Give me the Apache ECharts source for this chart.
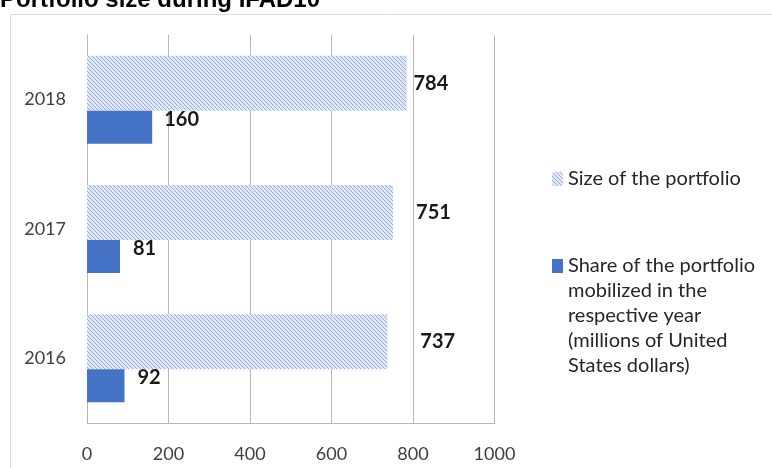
<!DOCTYPE html>
<html>
<head>
<meta charset="utf-8">
<script src="https://cdn.jsdelivr.net/npm/echarts@6/dist/echarts.min.js"></script>
<style>
  html, body { margin: 0; padding: 0; background: #fff; }
  #chart { width: 772px; height: 468px; }
</style>
</head>
<body>
<div id="chart"></div>
<script>
// Portfolio size during IFAD10 (millions of USD)
const years = ['2016', '2017', '2018'];
const portfolioSize = [737, 751, 784];
const mobilizedShare = [92, 81, 160];
const valueTicks = [0, 200, 400, 600, 800, 1000];

const sizeName = 'Size of the portfolio';
const shareName = 'Share of the portfolio\nmobilized in the\nrespective year\n(millions of United\nStates dollars)';

// label nudges [dx, dy] per year
const sizeLabelNudge = [[28, 0], [18, 0], [2, 0]];
const shareLabelNudge = [[8, -8], [8, -8], [7, -8]];

// legend text metrics; the multi-line entry keeps its swatch beside the first line
const legendLine = 25;
const shareLines = shareName.split('\n').length;
const shareBlock = legendLine * shareLines;
const swatchTop = legendLine / 2 - 7;
const shareIcon = 'path://M0,0L0.01,0M0,' + swatchTop + 'H11V' + (swatchTop + 14) + 'H0Z' +
  'M0,' + shareBlock + 'L0.01,' + shareBlock;

// light blue diagonal hatch tile
function hatchTile() {
  const c = document.createElement('canvas');
  c.width = 4; c.height = 4;
  const g = c.getContext('2d');
  g.fillStyle = '#dfe7f6';
  g.fillRect(0, 0, 4, 4);
  g.fillStyle = '#97b0e0';
  for (let i = 0; i < 4; i++) g.fillRect(i, i, 1, 1);
  return c;
}
const hatch = { image: hatchTile(), repeat: 'repeat' };

const labelFont = { fontFamily: 'Lato', fontWeight: 'bold', fontSize: 20, color: '#1a1a1a' };
const tickFont = { fontFamily: 'Lato', fontSize: 18, color: '#404040' };
const legendFont = { fontFamily: 'Lato', fontSize: 20, color: '#262626', lineHeight: legendLine };

function withLabels(values, nudges) {
  return values.map((v, i) => ({ value: v, label: { offset: nudges[i] } }));
}

const chart = echarts.init(document.getElementById('chart'), null, { renderer: 'canvas' });
chart.setOption({
  animation: false,
  backgroundColor: '#ffffff',
  graphic: [
    {
      type: 'rect', silent: true, z: -1,
      shape: { x: 10.5, y: 14.5, width: 800, height: 500 },
      style: { fill: 'none', stroke: '#dcdcdc', lineWidth: 1 }
    },
    {
      type: 'text', x: 0, y: 12.5,
      style: {
        text: 'Portfolio size during IFAD10',
        font: 'bold 24px "Liberation Sans", Arial, sans-serif',
        fill: '#000', verticalAlign: 'bottom'
      }
    }
  ],
  grid: { left: 87, right: 277.5, top: 35, bottom: 45, containLabel: false },
  xAxis: {
    type: 'value',
    min: valueTicks[0],
    max: valueTicks[valueTicks.length - 1],
    interval: valueTicks[1] - valueTicks[0],
    axisLine: { show: true, lineStyle: { color: '#b8b8b8', width: 1 } },
    axisTick: { show: false },
    splitLine: { show: true, lineStyle: { color: '#b8b8b8', width: 1 } },
    axisLabel: Object.assign({ margin: 22, formatter: v => String(v) }, tickFont)
  },
  yAxis: {
    type: 'category',
    data: years,
    axisLine: { show: true, lineStyle: { color: '#b8b8b8', width: 1 } },
    axisTick: { show: false },
    splitLine: { show: false },
    axisLabel: Object.assign({ margin: 21 }, tickFont)
  },
  legend: [
    {
      data: [sizeName],
      orient: 'vertical',
      left: 552, top: 166.5,
      padding: 0,
      itemWidth: 11, itemHeight: 14,
      textStyle: legendFont
    },
    {
      data: [{ name: shareName, icon: shareIcon }],
      orient: 'vertical',
      left: 552, top: 253.5,
      padding: 0,
      itemWidth: 11, itemHeight: shareBlock,
      textStyle: legendFont
    }
  ],
  series: [
    {
      name: sizeName,
      type: 'bar',
      barWidth: 55,
      barGap: '0%',
      itemStyle: { color: hatch },
      label: Object.assign({ show: true, position: 'right', distance: 5 }, labelFont),
      data: withLabels(portfolioSize, sizeLabelNudge)
    },
    {
      name: shareName,
      type: 'bar',
      barWidth: 33,
      barGap: '0%',
      itemStyle: { color: '#4472c4' },
      label: Object.assign({ show: true, position: 'right', distance: 5 }, labelFont),
      data: withLabels(mobilizedShare, shareLabelNudge)
    }
  ]
});
</script>
</body>
</html>
